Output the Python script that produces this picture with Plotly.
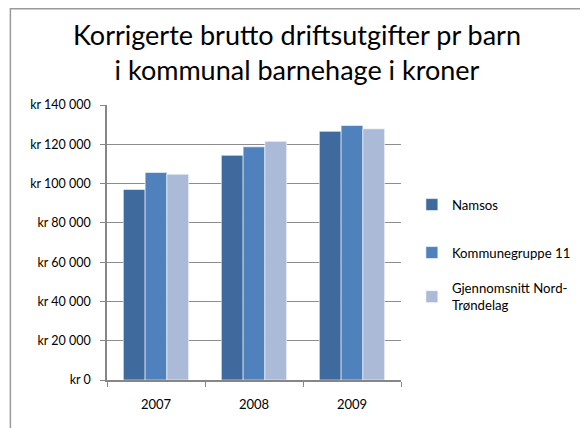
import plotly.graph_objects as go

years = ["2007", "2008", "2009"]
namsos = [97000, 114400, 126600]
kommunegruppe = [105700, 118700, 129600]
nord_trondelag = [104800, 121500, 127900]
series_names = ["Namsos", "Kommunegruppe 11", "Gjennomsnitt Nord-<br>Trøndelag"]
colors = ["#3F6A9E", "#4F81BD", "#AABAD7"]
tick_vals = [0, 20000, 40000, 60000, 80000, 100000, 120000, 140000]
tick_text = ["kr 0", "kr 20 000", "kr 40 000", "kr 60 000", "kr 80 000",
             "kr 100 000", "kr 120 000", "kr 140 000"]

W, H = 580, 420
L, R, T, B = 99, 182, 97, 48
pw, ph = W - L - R, H - T - B

legend_ids = ["legend", "legend2", "legend3"]
legend_y = [(372 - 197) / ph, (372 - 245) / ph, (372 - 289) / ph]

fig = go.Figure()
for i, (name, vals) in enumerate(zip(series_names, [namsos, kommunegruppe, nord_trondelag])):
    fig.add_trace(go.Bar(
        x=years, y=vals, name=name, legend=legend_ids[i],
        marker=dict(color=colors[i], line=dict(color="rgba(255,255,255,0.6)", width=1)),
    ))

leg_common = dict(x=1.037, xanchor="left", yanchor="middle", font=dict(size=13.2),
                  bgcolor="rgba(0,0,0,0)")

fig.update_layout(
    width=W, height=H,
    margin=dict(l=L, r=R, t=T, b=B),
    paper_bgcolor="white", plot_bgcolor="white",
    font=dict(family="Lato, Open Sans, sans-serif", color="#000000", size=12),
    title=dict(text="Korrigerte brutto driftsutgifter pr barn<br>i kommunal barnehage i kroner",
               x=289 / W, xanchor="center", xref="container",
               y=1 - (45 - 8) / H, yanchor="middle",
               font=dict(size=27, color="#000000")),
    barmode="group", bargap=0.333, bargroupgap=0,
    showlegend=True,
    legend=dict(y=legend_y[0], **leg_common),
    legend2=dict(y=legend_y[1], **leg_common),
    legend3=dict(y=legend_y[2], **leg_common),
    xaxis=dict(showline=True, linecolor="#868686", linewidth=1.5,
               ticks="outside", tickson="boundaries", ticklen=5, tickcolor="#868686",
               tickfont=dict(size=13), ticklabelstandoff=12),
    yaxis=dict(range=[0, 140000], tickvals=tick_vals, ticktext=tick_text,
               showgrid=True, gridcolor="#8C8C8C", gridwidth=1,
               showline=True, linecolor="#868686", linewidth=1.5,
               ticks="outside", ticklen=5, tickcolor="#868686",
               tickfont=dict(size=12.5), zeroline=False, ticklabelstandoff=7),
    shapes=[dict(type="rect", xref="paper", yref="paper",
                 x0=(0.75 - L) / pw, x1=(W + 10 - L) / pw,
                 y0=-(B + 10) / ph, y1=(T - 0.75) / ph + 1,
                 line=dict(color="#9A9A9A", width=1.5), fillcolor="rgba(0,0,0,0)")],
)

fig.write_html("out.html")
